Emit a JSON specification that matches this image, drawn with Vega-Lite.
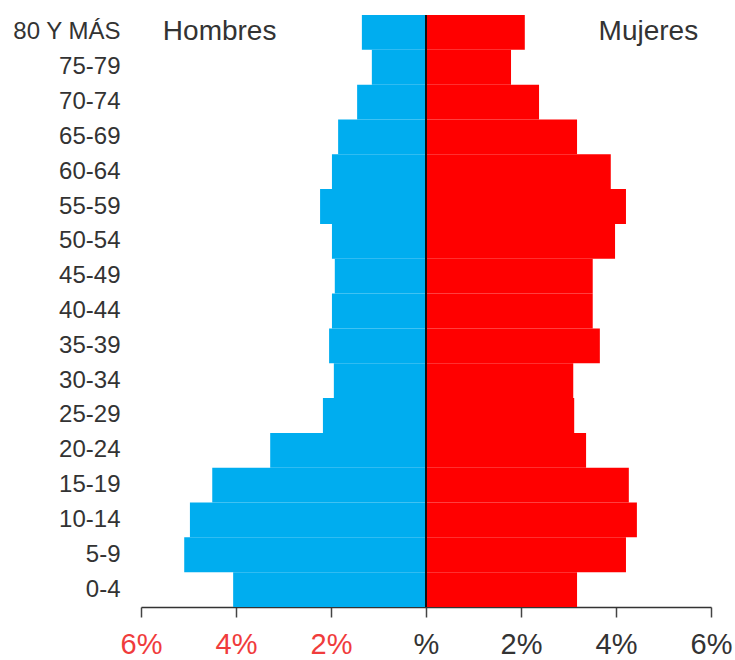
{
  "$schema": "https://vega.github.io/schema/vega-lite/v6.json",
  "width": 570,
  "height": 592,
  "autosize": {"type": "none"},
  "padding": {"left": 141, "top": 15, "right": 24, "bottom": 53},
  "background": "white",
  "config": {"view": {"stroke": null}, "font": "Liberation Sans"},
  "data": {
    "values": [
      {"edad": "80 Y MÁS", "sexo": "Hombres", "pct": -1.35},
      {"edad": "75-79", "sexo": "Hombres", "pct": -1.14},
      {"edad": "70-74", "sexo": "Hombres", "pct": -1.45},
      {"edad": "65-69", "sexo": "Hombres", "pct": -1.85},
      {"edad": "60-64", "sexo": "Hombres", "pct": -1.98},
      {"edad": "55-59", "sexo": "Hombres", "pct": -2.23},
      {"edad": "50-54", "sexo": "Hombres", "pct": -1.98},
      {"edad": "45-49", "sexo": "Hombres", "pct": -1.92},
      {"edad": "40-44", "sexo": "Hombres", "pct": -1.98},
      {"edad": "35-39", "sexo": "Hombres", "pct": -2.04},
      {"edad": "30-34", "sexo": "Hombres", "pct": -1.94},
      {"edad": "25-29", "sexo": "Hombres", "pct": -2.17},
      {"edad": "20-24", "sexo": "Hombres", "pct": -3.28},
      {"edad": "15-19", "sexo": "Hombres", "pct": -4.5},
      {"edad": "10-14", "sexo": "Hombres", "pct": -4.97},
      {"edad": "5-9", "sexo": "Hombres", "pct": -5.09},
      {"edad": "0-4", "sexo": "Hombres", "pct": -4.06},
      {"edad": "80 Y MÁS", "sexo": "Mujeres", "pct": 2.08},
      {"edad": "75-79", "sexo": "Mujeres", "pct": 1.79},
      {"edad": "70-74", "sexo": "Mujeres", "pct": 2.38},
      {"edad": "65-69", "sexo": "Mujeres", "pct": 3.18},
      {"edad": "60-64", "sexo": "Mujeres", "pct": 3.89},
      {"edad": "55-59", "sexo": "Mujeres", "pct": 4.21},
      {"edad": "50-54", "sexo": "Mujeres", "pct": 3.98},
      {"edad": "45-49", "sexo": "Mujeres", "pct": 3.51},
      {"edad": "40-44", "sexo": "Mujeres", "pct": 3.51},
      {"edad": "35-39", "sexo": "Mujeres", "pct": 3.66},
      {"edad": "30-34", "sexo": "Mujeres", "pct": 3.1},
      {"edad": "25-29", "sexo": "Mujeres", "pct": 3.12},
      {"edad": "20-24", "sexo": "Mujeres", "pct": 3.37},
      {"edad": "15-19", "sexo": "Mujeres", "pct": 4.27},
      {"edad": "10-14", "sexo": "Mujeres", "pct": 4.44},
      {"edad": "5-9", "sexo": "Mujeres", "pct": 4.21},
      {"edad": "0-4", "sexo": "Mujeres", "pct": 3.18}
    ]
  },
  "layer": [
    {
      "mark": {"type": "bar"},
      "encoding": {
        "y": {
          "field": "edad",
          "type": "nominal",
          "scale": {"domain": ["80 Y MÁS", "75-79", "70-74", "65-69", "60-64", "55-59", "50-54", "45-49", "40-44", "35-39", "30-34", "25-29", "20-24", "15-19", "10-14", "5-9", "0-4"], "paddingInner": 0, "paddingOuter": 0},
          "axis": {"title": null, "domain": false, "ticks": false, "labelFontSize": 24, "labelPadding": 21, "labelColor": "#333333"}
        },
        "x": {
          "field": "pct",
          "type": "quantitative",
          "scale": {"domain": [-6, 6], "nice": false},
          "axis": {
            "title": null,
            "values": [-6, -4, -2, 0, 2, 4, 6],
            "grid": false,
            "labelFlush": false,
            "labelOverlap": false,
            "labelExpr": "datum.value == 0 ? '%' : abs(datum.value) + '%'",
            "labelFontSize": 29,
            "labelPadding": 13,
            "labelColor": {"condition": {"test": "datum.value < 0", "value": "#f03c3c"}, "value": "#333333"},
            "tickSize": 10,
            "tickColor": "#444444",
            "tickWidth": 1.5,
            "domainColor": "#333333",
            "domainWidth": 1.5
          }
        },
        "color": {
          "field": "sexo",
          "type": "nominal",
          "scale": {"domain": ["Hombres", "Mujeres"], "range": ["#00adef", "#ff0000"]},
          "legend": null
        }
      }
    },
    {
      "data": {"values": [{"cero": 0}]},
      "mark": {"type": "rule", "color": "#111111", "strokeWidth": 2},
      "encoding": {"x": {"field": "cero", "type": "quantitative"}}
    },
    {
      "data": {"values": [{"texto": "Hombres", "edad": "80 Y MÁS"}]},
      "mark": {"type": "text", "align": "left", "baseline": "middle", "fontSize": 28, "color": "#333333"},
      "encoding": {"x": {"datum": -5.54}, "y": {"field": "edad", "type": "nominal"}, "text": {"field": "texto"}}
    },
    {
      "data": {"values": [{"texto": "Mujeres", "edad": "80 Y MÁS"}]},
      "mark": {"type": "text", "align": "right", "baseline": "middle", "fontSize": 28, "color": "#333333"},
      "encoding": {"x": {"datum": 5.73}, "y": {"field": "edad", "type": "nominal"}, "text": {"field": "texto"}}
    }
  ]
}
